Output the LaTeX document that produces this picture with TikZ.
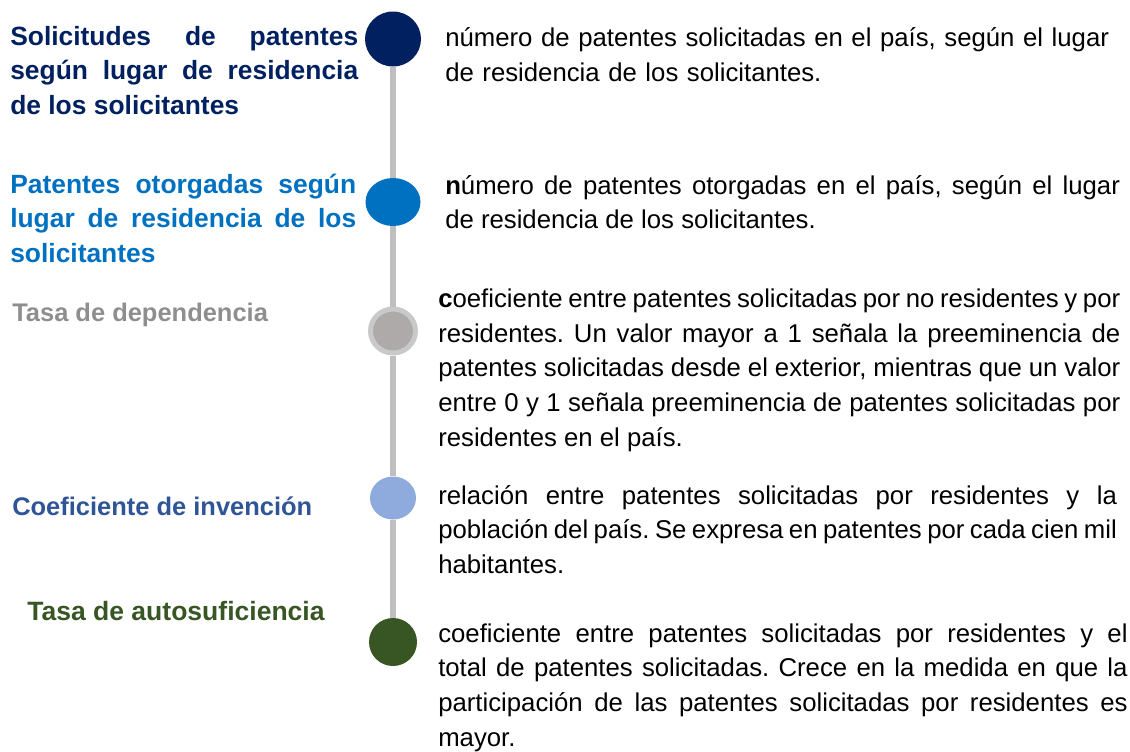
\documentclass[tikz,border=0pt]{standalone}
\usepackage{fontspec}
\setmainfont{Liberation Sans}
\usepackage{xcolor}
\usetikzlibrary{positioning,shapes.geometric}
\definecolor{navyblue}{HTML}{002060}
\definecolor{midblue}{HTML}{0070C0}
\definecolor{titlegray}{HTML}{8E8E8E}
\definecolor{dotgray}{HTML}{AEAAAA}
\definecolor{ringgray}{HTML}{C9C9C9}
\definecolor{stemgray}{HTML}{BFBFBF}
\definecolor{steelblue}{HTML}{2F5597}
\definecolor{paleblue}{HTML}{8FAADC}
\definecolor{darkgreen}{HTML}{375623}
\frenchspacing

\begin{document}
\begin{tikzpicture}[
  x=0.75pt, y=-0.75pt,
  dot/.style={ellipse, inner sep=0pt},
  stem/.style={draw=stemgray, line width=4.5pt},
  title/.style={font=\bfseries\fontsize{#1}{26}\selectfont, inner sep=0pt},
  desc/.style={font=\fontsize{19.3}{26}\selectfont, inner sep=0pt, anchor=north west}
]

\useasboundingbox (0,0) rectangle (1130,751);

\node[dot, fill=navyblue, minimum width=42pt, minimum height=41.25pt] (solic) at (393,39) {};
\node[dot, fill=midblue, minimum width=41.25pt, minimum height=36pt] (otorg) at (393,202) {};
\node[dot, fill=dotgray, draw=ringgray, line width=3.75pt, minimum width=33.75pt, minimum height=33pt] (depen) at (393,331) {};
\node[dot, fill=paleblue, minimum width=34.5pt, minimum height=32.25pt] (invent) at (393,498) {};
\node[dot, fill=darkgreen, minimum width=36pt, minimum height=36pt] (autos) at (393,642) {};

\draw[stem] (solic) -- (otorg);
\draw[stem] (otorg) -- (depen);
\draw[stem] (depen) -- (invent);
\draw[stem] (invent) -- (autos);

\node[title=19.8, text=navyblue, anchor=north west, text width=261pt, align=justify] (solictitle) at (10,20.7)
  {\strut Solicitudes de patentes\linebreak según lugar de residencia\linebreak de los solicitantes};
\node[title=19.8, text=midblue, anchor=north west, text width=259.5pt, align=justify] (otorgtitle) at (10,168.7)
  {\strut Patentes otorgadas según\linebreak lugar de residencia de los\linebreak solicitantes};
\node[title=19.1, text=titlegray, anchor=base west] (depentitle) at (12,321.7) {Tasa de dependencia};
\node[title=19.1, text=steelblue, anchor=base west] (inventitle) at (12,515) {Coeficiente de invención};
\node[title=19.9, text=darkgreen, anchor=base west] (autostitle) at (27,620) {Tasa de autosuficiencia};

\node[desc, text width=520pt, align=left] (solicdesc) at (445,22.4)
  {\strut número de patentes solicitadas en el país, según el lugar\\de residencia de los solicitantes.};
\node[desc, text width=506pt, align=justify] (otorgdesc) at (445,169.7)
  {\strut\textbf{n}úmero de patentes otorgadas en el país, según el lugar\linebreak de residencia de los solicitantes.};
\node[desc, text width=511.5pt, align=justify] (dependesc) at (438,283)
  {\strut\textbf{c}oeficiente entre patentes solicitadas por no residentes y por\linebreak residentes. Un valor mayor a 1 señala la preeminencia de\linebreak patentes solicitadas desde el exterior, mientras que un valor\linebreak entre 0 y 1 señala preeminencia de patentes solicitadas por\linebreak residentes en el país.};
\node[desc, text width=509pt, align=justify] (inventdesc) at (438,479.7)
  {\strut relación entre patentes solicitadas por residentes y la\linebreak población del país. Se expresa en patentes por cada cien mil\linebreak habitantes.};
\node[desc, text width=517pt, align=justify] (autosdesc) at (438,617.5)
  {\strut coeficiente entre patentes solicitadas por residentes y el\linebreak total de patentes solicitadas. Crece en la medida en que la\linebreak participación de las patentes solicitadas por residentes es\linebreak mayor.};

\end{tikzpicture}
\end{document}
